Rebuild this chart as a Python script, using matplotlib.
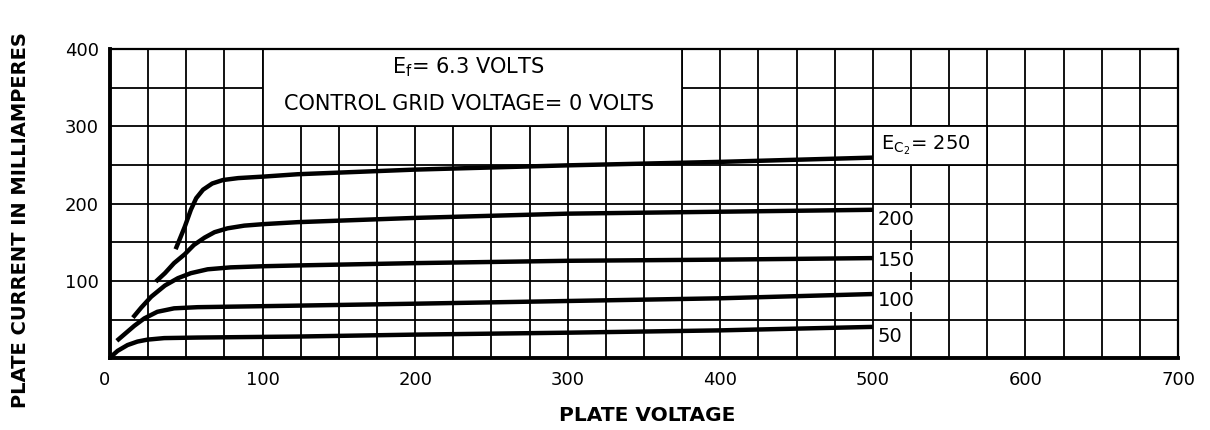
import numpy as np
from matplotlib import pyplot as plt
from matplotlib.patches import Rectangle

# curves: plate voltage (V) vs plate current (mA), one per screen voltage
v_250 = [43, 45.5, 49, 53, 56.5, 61, 67, 74, 84, 101, 123, 200, 300, 400, 500]
i_250 = [141, 153, 170, 192, 207, 218, 226, 230.5, 233, 235, 238, 244, 249.5, 254, 259.5]
v_200 = [30, 36, 42, 49, 55, 62, 68.5, 77, 88, 101, 123, 200, 300, 400, 500]
i_200 = [99, 110, 123, 134.5, 146.5, 156, 163, 168, 171.5, 173.5, 176, 181.5, 187, 189.5, 192]
v_150 = [15, 20.5, 27, 36, 44.5, 53, 64, 79, 101, 123, 200, 300, 400, 500]
i_150 = [52.5, 65.5, 79.5, 94, 103.5, 110, 115, 117.5, 119, 120, 123, 126, 127.5, 129.5]
v_100 = [4.5, 9.5, 16, 22.5, 31, 42, 57.5, 123, 200, 300, 400, 500]
i_100 = [22.5, 31, 42, 51.5, 60, 64.5, 66, 68, 70.5, 74, 77.5, 83]
v_50 = [0.7, 5, 11.5, 18, 24.5, 35.5, 57.5, 123, 200, 300, 400, 500]
i_50 = [2, 9.5, 17, 21.5, 24, 26, 26.7, 28, 30.5, 33, 36, 40.5]

curve_labels = ['200', '150', '100', '50']
label_y = [180, 126, 74, 28.5]

x_ticks = [0, 100, 200, 300, 400, 500, 600, 700]
y_ticks = [100, 200, 300, 400]

plt.rcParams['font.family'] = ['DejaVu Sans']

fig = plt.figure(figsize=(12.1, 4.3), dpi=100, facecolor='white')
ax = fig.add_axes([0.0909, 0.167, 0.8827, 0.719])

for v, i in [(v_250, i_250), (v_200, i_200), (v_150, i_150), (v_100, i_100), (v_50, i_50)]:
    ax.plot(v, i, color='black', lw=3.2, solid_capstyle='butt', zorder=3)

ax.set_xlim(0, 700)
ax.set_ylim(0, 400)
ax.set_xticks(x_ticks)
ax.set_yticks(y_ticks)
ax.set_xticks(np.arange(0, 701, 25), minor=True)
ax.set_yticks(np.arange(0, 401, 50), minor=True)
ax.grid(True, which='both', color='black', lw=1.3)
ax.set_axisbelow(True)
ax.tick_params(which='both', length=0)
ax.tick_params(axis='x', pad=9, labelsize=13)
ax.tick_params(axis='y', pad=8, labelsize=13)
ax.get_xticklabels()[0].set_horizontalalignment('right')

for side in ['left', 'bottom']:
    ax.spines[side].set_linewidth(2.8)
for side in ['top', 'right']:
    ax.spines[side].set_linewidth(1.6)

# heading box over the top of the grid
ax.add_patch(Rectangle((100, 300), 275, 100, facecolor='white', edgecolor='black', lw=1.3, zorder=2))
ax.text(235, 377, 'E$_\\mathregular{f}$= 6.3 VOLTS', ha='center', va='center', fontsize=15, zorder=4)
ax.text(235, 329, 'CONTROL GRID VOLTAGE= 0 VOLTS', ha='center', va='center', fontsize=15, zorder=4)

ax.add_patch(Rectangle((500, 250), 75, 50, facecolor='white', edgecolor='black', lw=1.3, zorder=2))
ax.text(505, 276, 'E$_\\mathregular{C_2}$= 250', ha='left', va='center', fontsize=14, zorder=4)

for lab, y in zip(curve_labels, label_y):
    ax.text(503, y, lab, ha='left', va='center', fontsize=14, zorder=4,
            bbox=dict(facecolor='white', edgecolor='none', pad=1))

ax.set_xlabel('PLATE VOLTAGE', fontsize=14.5, fontweight='bold')
ax.xaxis.set_label_coords(0.503, -0.155)
ax.set_ylabel('PLATE CURRENT IN MILLIAMPERES', fontsize=14, fontweight='bold')
ax.yaxis.set_label_coords(-0.075, 0.447)

fig.savefig('out.png', dpi=100, facecolor='white')
